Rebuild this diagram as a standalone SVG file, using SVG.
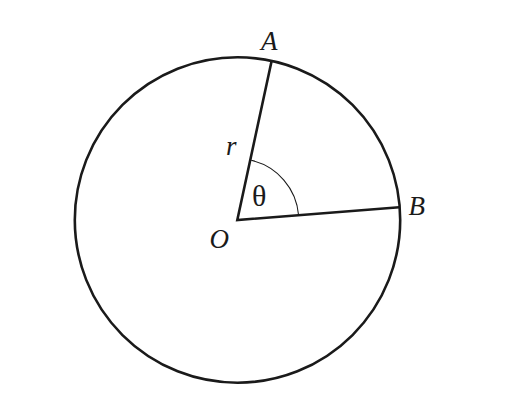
<svg xmlns="http://www.w3.org/2000/svg" width="520" height="410" viewBox="0 0 520 410">
<style>
.thick{fill:none;stroke:#1a1a1a;stroke-width:2.6;stroke-linejoin:miter}
.thin{fill:none;stroke:#1a1a1a;stroke-width:1.1}
.lbl{font-family:'Liberation Serif','Times New Roman',serif;font-size:27px;font-style:italic;fill:#1a1a1a}
.gr{font-family:'Liberation Serif','Times New Roman',serif;font-size:30px;fill:#1a1a1a}
</style>
<rect width="520" height="410" fill="#ffffff"/>
<g id="circle"><circle class="thick" cx="237.5" cy="220" r="162.7"/></g>
<g id="connectors">
<polyline class="thick" points="271.5,61.5 237.3,220 399.3,207.3"/>
<path class="thin" d="M251.2,160.3 A61.5,61.5 0 0 1 298.6,215.2"/>
</g>
<g id="labels">
<text class="lbl" x="261" y="49.5">A</text>
<text class="lbl" x="408.5" y="214.5">B</text>
<text class="lbl" x="209.5" y="247.5">O</text>
<text class="lbl" x="226" y="154.5">r</text>
<text class="gr" x="252" y="206">θ</text>
</g>
</svg>
